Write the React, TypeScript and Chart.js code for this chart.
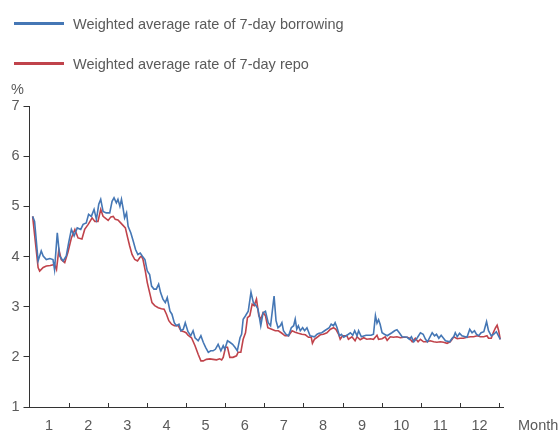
import React, { useEffect, useRef } from "react";
import { Chart, registerables } from "chart.js";

Chart.register(...registerables);

// Month position (0 = start of January, 12 = end of December) and rate (%)
const borrowingMonth = [0.08,0.13,0.22,0.30,0.35,0.43,0.52,0.60,0.64,0.71,0.77,0.86,0.94,1.00,1.07,1.14,1.22,1.31,1.37,1.45,1.51,1.58,1.65,1.71,1.77,1.82,1.88,1.96,2.05,2.11,2.16,2.22,2.26,2.31,2.35,2.39,2.43,2.48,2.52,2.59,2.65,2.71,2.77,2.83,2.88,2.95,3.01,3.07,3.12,3.18,3.24,3.30,3.35,3.41,3.47,3.52,3.59,3.64,3.70,3.75,3.82,3.87,3.93,3.98,4.05,4.12,4.18,4.23,4.31,4.38,4.44,4.50,4.57,4.63,4.69,4.75,4.82,4.89,4.95,4.99,5.06,5.12,5.19,5.25,5.31,5.38,5.42,5.46,5.52,5.59,5.66,5.72,5.79,5.84,5.91,5.97,6.03,6.10,6.16,6.25,6.30,6.35,6.41,6.45,6.49,6.55,6.62,6.69,6.75,6.79,6.83,6.87,6.92,6.98,7.03,7.09,7.17,7.28,7.35,7.40,7.47,7.54,7.66,7.71,7.77,7.81,7.86,7.92,7.97,8.03,8.15,8.20,8.26,8.31,8.37,8.41,8.48,8.60,8.73,8.79,8.84,8.88,8.92,8.96,9.01,9.07,9.14,9.26,9.33,9.39,9.45,9.52,9.65,9.71,9.76,9.82,9.91,9.99,10.06,10.12,10.17,10.29,10.35,10.40,10.46,10.52,10.63,10.74,10.80,10.84,10.88,10.93,10.99,11.05,11.18,11.25,11.31,11.37,11.42,11.48,11.54,11.61,11.68,11.73,11.80,11.86,11.93,12.03];
const borrowingRate = [4.80,4.70,3.91,4.11,4.01,3.94,3.96,3.94,3.74,4.47,4.01,3.91,4.01,4.27,4.54,4.41,4.57,4.54,4.64,4.67,4.84,4.80,4.94,4.74,5.04,5.14,4.90,4.87,4.87,5.10,5.17,5.07,5.14,5.00,5.14,4.97,4.77,4.87,4.60,4.47,4.31,4.14,4.04,4.07,4.01,3.94,3.71,3.64,3.41,3.35,3.35,3.45,3.28,3.15,3.08,3.18,2.91,2.85,2.68,2.62,2.65,2.52,2.55,2.68,2.50,2.42,2.52,2.38,2.32,2.42,2.29,2.19,2.09,2.12,2.12,2.15,2.25,2.12,2.22,2.15,2.32,2.29,2.25,2.19,2.12,2.38,2.45,2.75,2.82,2.91,3.29,3.08,3.02,2.95,2.62,2.88,2.91,2.68,2.62,3.21,2.72,2.58,2.62,2.68,2.52,2.45,2.42,2.58,2.62,2.75,2.55,2.62,2.52,2.58,2.52,2.58,2.42,2.40,2.45,2.47,2.48,2.52,2.58,2.65,2.62,2.68,2.58,2.42,2.45,2.39,2.45,2.48,2.43,2.52,2.42,2.52,2.40,2.43,2.43,2.45,2.82,2.67,2.74,2.65,2.48,2.45,2.42,2.48,2.52,2.54,2.48,2.40,2.39,2.35,2.40,2.30,2.38,2.48,2.45,2.35,2.30,2.48,2.42,2.45,2.37,2.43,2.32,2.30,2.37,2.40,2.48,2.40,2.47,2.42,2.39,2.55,2.48,2.52,2.45,2.42,2.48,2.50,2.70,2.52,2.42,2.45,2.50,2.35];

const repoMonth = [0.08,0.22,0.26,0.35,0.43,0.53,0.64,0.69,0.75,0.81,0.90,0.98,1.07,1.16,1.24,1.34,1.41,1.50,1.60,1.67,1.75,1.82,1.88,2.01,2.08,2.14,2.19,2.26,2.33,2.39,2.45,2.50,2.56,2.62,2.69,2.76,2.82,2.86,2.90,2.96,3.01,3.07,3.13,3.20,3.29,3.37,3.44,3.50,3.56,3.63,3.70,3.80,3.87,3.95,4.00,4.05,4.14,4.23,4.31,4.38,4.44,4.52,4.61,4.69,4.78,4.86,4.91,4.95,5.01,5.06,5.12,5.20,5.29,5.33,5.40,5.46,5.52,5.57,5.63,5.69,5.74,5.80,5.86,5.91,5.97,6.03,6.09,6.19,6.28,6.36,6.45,6.53,6.62,6.71,6.79,6.87,6.96,7.05,7.13,7.20,7.23,7.28,7.35,7.43,7.51,7.60,7.69,7.77,7.83,7.90,7.94,8.00,8.11,8.15,8.24,8.32,8.37,8.45,8.54,8.62,8.71,8.79,8.88,8.92,9.01,9.09,9.14,9.22,9.30,9.39,9.48,9.56,9.65,9.71,9.78,9.86,9.93,9.99,10.07,10.16,10.24,10.33,10.41,10.50,10.58,10.67,10.75,10.80,10.84,10.93,11.01,11.09,11.18,11.27,11.35,11.44,11.52,11.61,11.69,11.73,11.80,11.85,11.91,11.95,11.99,12.03];
const repoRate = [4.80,3.78,3.71,3.78,3.81,3.82,3.84,3.74,4.14,3.94,3.88,4.08,4.37,4.54,4.37,4.35,4.54,4.64,4.77,4.70,4.70,4.94,4.80,4.72,4.79,4.80,4.74,4.73,4.67,4.62,4.57,4.40,4.21,4.04,3.94,3.91,3.98,4.01,3.94,3.71,3.48,3.28,3.08,3.02,2.98,2.96,2.95,2.85,2.72,2.65,2.62,2.62,2.52,2.50,2.48,2.43,2.38,2.22,2.05,1.92,1.92,1.95,1.96,1.95,1.94,1.96,1.94,1.99,2.19,2.19,1.99,1.99,2.02,2.09,2.09,2.35,2.48,2.78,2.82,3.05,3.02,3.15,2.82,2.75,2.88,2.82,2.58,2.55,2.52,2.52,2.47,2.42,2.42,2.52,2.49,2.47,2.45,2.44,2.39,2.39,2.27,2.35,2.39,2.44,2.45,2.48,2.55,2.58,2.55,2.45,2.35,2.42,2.42,2.35,2.40,2.32,2.40,2.34,2.38,2.35,2.36,2.35,2.43,2.35,2.36,2.40,2.33,2.40,2.39,2.40,2.38,2.39,2.39,2.37,2.30,2.37,2.30,2.35,2.30,2.30,2.32,2.30,2.29,2.30,2.29,2.27,2.30,2.35,2.40,2.36,2.37,2.37,2.39,2.40,2.40,2.42,2.40,2.40,2.42,2.37,2.37,2.48,2.58,2.63,2.52,2.35];

const monthLabels = ["1","2","3","4","5","6","7","8","9","10","11","12"];
const monthBoundaries = [1,2,3,4,5,6,7,8,9,10,11,12];
const seriesNames = ["Weighted average rate of 7-day borrowing", "Weighted average rate of 7-day repo"];
const seriesColors = ["#4577b5", "#c0434b"];

const FONT = "'Liberation Sans', Arial, sans-serif";
const TEXT = "#5a5a5a";
const AXIS = "#333";

const innerTicks = {
  id: "innerTicks",
  afterDraw(chart: any) {
    const xs = chart.scales.x;
    const ctx = chart.ctx;
    const y = chart.chartArea.bottom;
    ctx.save();
    ctx.strokeStyle = AXIS;
    ctx.lineWidth = 1;
    ctx.beginPath();
    monthBoundaries.forEach((m) => {
      const px = Math.round(xs.getPixelForValue(m)) + 0.5;
      ctx.moveTo(px, y);
      ctx.lineTo(px, y - 4);
    });
    ctx.stroke();
    ctx.restore();
  },
};

export default function App() {
  const ref = useRef<HTMLCanvasElement>(null);
  useEffect(() => {
    if (!ref.current) return;
    const chart = new Chart(ref.current, {
      type: "line",
      data: {
        datasets: [
          {
            label: seriesNames[0],
            data: borrowingMonth.map((m, i) => ({ x: m, y: borrowingRate[i] })),
            borderColor: seriesColors[0],
            borderWidth: 1.6,
            pointRadius: 0,
            tension: 0,
          },
          {
            label: seriesNames[1],
            data: repoMonth.map((m, i) => ({ x: m, y: repoRate[i] })),
            borderColor: seriesColors[1],
            borderWidth: 1.6,
            pointRadius: 0,
            tension: 0,
          },
        ],
      },
      options: {
        animation: false,
        responsive: false,
        devicePixelRatio: 1,
        layout: { padding: { top: 106, right: 57, left: 0, bottom: 0 } },
        plugins: { legend: { display: false }, tooltip: { enabled: false } },
        scales: {
          x: {
            type: "linear",
            min: 0,
            max: 12.1,
            afterFit(scale: any) { scale.height = 25; },
            afterBuildTicks(scale: any) {
              scale.ticks = monthLabels.map((_, i) => ({ value: i + 0.5 }));
            },
            ticks: {
              autoSkip: false,
              maxRotation: 0,
              padding: 10,
              color: TEXT,
              font: { family: FONT, size: 14.5 },
              callback: (v: any) => monthLabels[Math.floor(Number(v))] ?? "",
            },
            grid: { display: false, drawTicks: false },
            border: { display: true, color: AXIS, width: 1 },
          },
          y: {
            min: 1,
            max: 7,
            afterFit(scale: any) { scale.width = 29.5; },
            ticks: {
              stepSize: 1,
              padding: 4,
              color: TEXT,
              font: { family: FONT, size: 14.5 },
            },
            grid: { display: true, drawOnChartArea: false, drawTicks: true, tickLength: 6, tickColor: AXIS },
            border: { display: true, color: AXIS, width: 1 },
          },
        },
      },
      plugins: [innerTicks],
    });
    return () => chart.destroy();
  }, []);

  const textStyle: React.CSSProperties = {
    position: "absolute",
    fontFamily: FONT,
    fontSize: "14.5px",
    color: TEXT,
    lineHeight: "17px",
    whiteSpace: "nowrap",
  };

  return (
    <div style={{ position: "fixed", left: 0, top: 0, width: 560, height: 432, background: "#fff" }}>
      <canvas ref={ref} width={560} height={432} style={{ position: "absolute", left: 0, top: 0 }} />
      {seriesNames.map((name, i) => (
        <React.Fragment key={name}>
          <div style={{ position: "absolute", left: 14, top: 22 + i * 40, width: 50, height: 3, background: seriesColors[i] }} />
          <div style={{ ...textStyle, left: 73, top: 16 + i * 40 }}>{name}</div>
        </React.Fragment>
      ))}
      <div style={{ ...textStyle, left: 11, top: 81 }}>%</div>
      <div style={{ ...textStyle, left: 518, top: 417 }}>Month</div>
    </div>
  );
}
